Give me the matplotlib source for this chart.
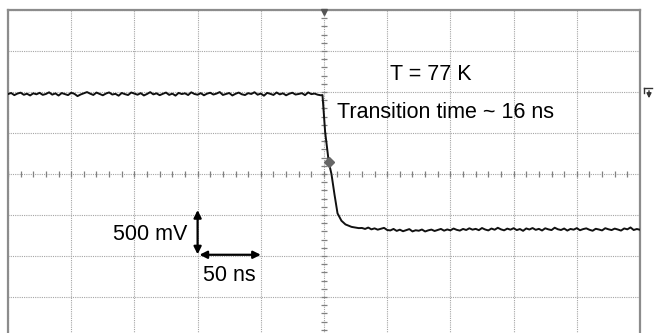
import numpy as np
import matplotlib
matplotlib.use("Agg")
import matplotlib.pyplot as plt

plt.rcParams['font.family'] = ['Liberation Sans', 'DejaVu Sans']

# Scope settings: 50 ns/div horizontally, 500 mV/div vertically
ns_per_div = 50
v_per_div = 0.5

# Trace before the edge (t = -250 ... -2.5 ns, step 2.5 ns), in mV
high_mV = [
    975, 988, 962, 981, 992, 966, 979, 958, 984, 972,
    990, 965, 976, 996, 968, 983, 957, 987, 975, 962,
    991, 978, 950, 970, 985, 999, 980, 964, 993, 976,
    960, 981, 995, 969, 978, 955, 988, 974, 963, 994,
    981, 967, 986, 958, 976, 998, 971, 984, 961, 978,
    993, 965, 980, 956, 989, 975, 984, 963, 996, 976,
    967, 986, 960, 980, 991, 969, 981, 999, 964, 976,
    988, 958, 978, 993, 972, 963, 986, 976, 997, 967,
    981, 955, 989, 978, 964, 994, 971, 984, 960, 979,
    991, 969, 976, 986, 962, 995, 974, 981, 967, 960,
]

# Falling edge
edge_t = [-1.2, 0.9, 3.8, 5.9, 8.3, 10.7, 13.8, 17.0, 21.8, 27.5]
edge_mV = [963, 512, 143, 0, -250, -480, -570, -615, -645, -660]

# Trace after the edge (t = 30 ... 250 ns, step 2.5 ns), in mV
low_mV = [
    -658, -670, -653, -675, -663, -679, -668, -657, -683,
    -688, -670, -694, -679, -698, -685, -672, -700, -686,
    -692, -677, -701, -687, -678, -695, -682, -670, -691,
    -676, -687, -665, -681, -690, -670, -683, -662, -679,
    -669, -685, -659, -677, -688, -665, -680, -656, -675,
    -687, -666, -679, -661, -684, -671, -693, -664, -677,
    -659, -681, -669, -689, -662, -675, -684, -655, -674,
    -683, -665, -690, -670, -679, -660, -686, -672, -663,
    -680, -692, -668, -677, -688, -661, -674, -684, -666,
    -677, -690, -664, -675, -652, -683, -671, -680,
]

# Trigger point marker on the trace
trig_t, trig_mV = 3.8, 143

high_t = np.linspace(-250, -2.5, len(high_mV))
low_t = np.linspace(30, 250, len(low_mV))
t = np.concatenate([high_t, edge_t, low_t])
v = np.concatenate([high_mV, edge_mV, low_mV]) / 1000.0

fig = plt.figure(figsize=(6.57, 3.33), dpi=100)
W, H = 657, 333
ax = fig.add_axes([8 / W, (H - 338) / H, 632 / W, 328 / H])
ax.set_xlim(-5 * ns_per_div, 5 * ns_per_div)
ax.set_ylim(-4 * v_per_div, 4 * v_per_div)

# graticule
ax.set_xticks(np.arange(-5, 6) * ns_per_div)
ax.set_yticks(np.arange(-4, 5) * v_per_div)
ax.tick_params(length=0, labelbottom=False, labelleft=False)
ax.grid(True, color='#a5a5a5', linestyle=(0, (1, 1)), linewidth=0.8)
for side in ['left', 'top', 'right']:
    ax.spines[side].set_color('#8c8c8c')
    ax.spines[side].set_linewidth(1.6)
ax.spines['bottom'].set_visible(False)

# minor ticks along the centre lines
xm = np.arange(-25, 26) * ns_per_div / 5
ym = np.arange(-20, 21) * v_per_div / 5
ax.plot(xm, np.zeros_like(xm), ls='none', marker='|', ms=4.5, mew=0.9, color='#808080')
ax.plot(np.zeros_like(ym), ym, ls='none', marker='_', ms=4.5, mew=0.9, color='#808080')

# trace
ax.plot(t, v, color='#111111', lw=1.4, zorder=3)
ax.plot(trig_t, trig_mV / 1000.0, marker='D', ms=5.5, color='#666666', zorder=4)

# trigger position marker at top
ax.plot(0, 4 * v_per_div - 0.02, marker='v', ms=5, color='#555555', clip_on=False, zorder=5)

ax.text(52, 1.21, 'T = 77 K', fontsize=15.5, ha='left', va='center')
ax.text(10.5, 0.745, 'Transition time ~ 16 ns', fontsize=15.5, ha='left', va='center')

# scale arrows
ax.annotate('', xy=(-100, -0.44), xytext=(-100, -0.98),
            arrowprops=dict(arrowstyle='<|-|>', color='black', lw=1.6,
                            mutation_scale=11, shrinkA=0, shrinkB=0))
ax.annotate('', xy=(-98.5, -0.985), xytext=(-50, -0.985),
            arrowprops=dict(arrowstyle='<|-|>', color='black', lw=1.6,
                            mutation_scale=11, shrinkA=0, shrinkB=0))
ax.text(-108, -0.74, '500 mV', fontsize=15.5, ha='right', va='center')
ax.text(-96, -1.24, '50 ns', fontsize=15.5, ha='left', va='center')

# trigger level symbol right of the screen
fig.add_artist(plt.Line2D([644 / W, 652 / W], [(H - 88) / H] * 2, color='#333333', lw=1.0))
fig.add_artist(plt.Line2D([644 / W, 644 / W], [(H - 88) / H, (H - 93) / H], color='#333333', lw=1.0))
fig.patches.append(matplotlib.patches.FancyArrowPatch(
    (649 / W, (H - 88) / H), (649 / W, (H - 101) / H), transform=fig.transFigure,
    arrowstyle='-|>', mutation_scale=7, color='#333333', lw=1.0))

fig.savefig('out.png', dpi=100, facecolor='white')
